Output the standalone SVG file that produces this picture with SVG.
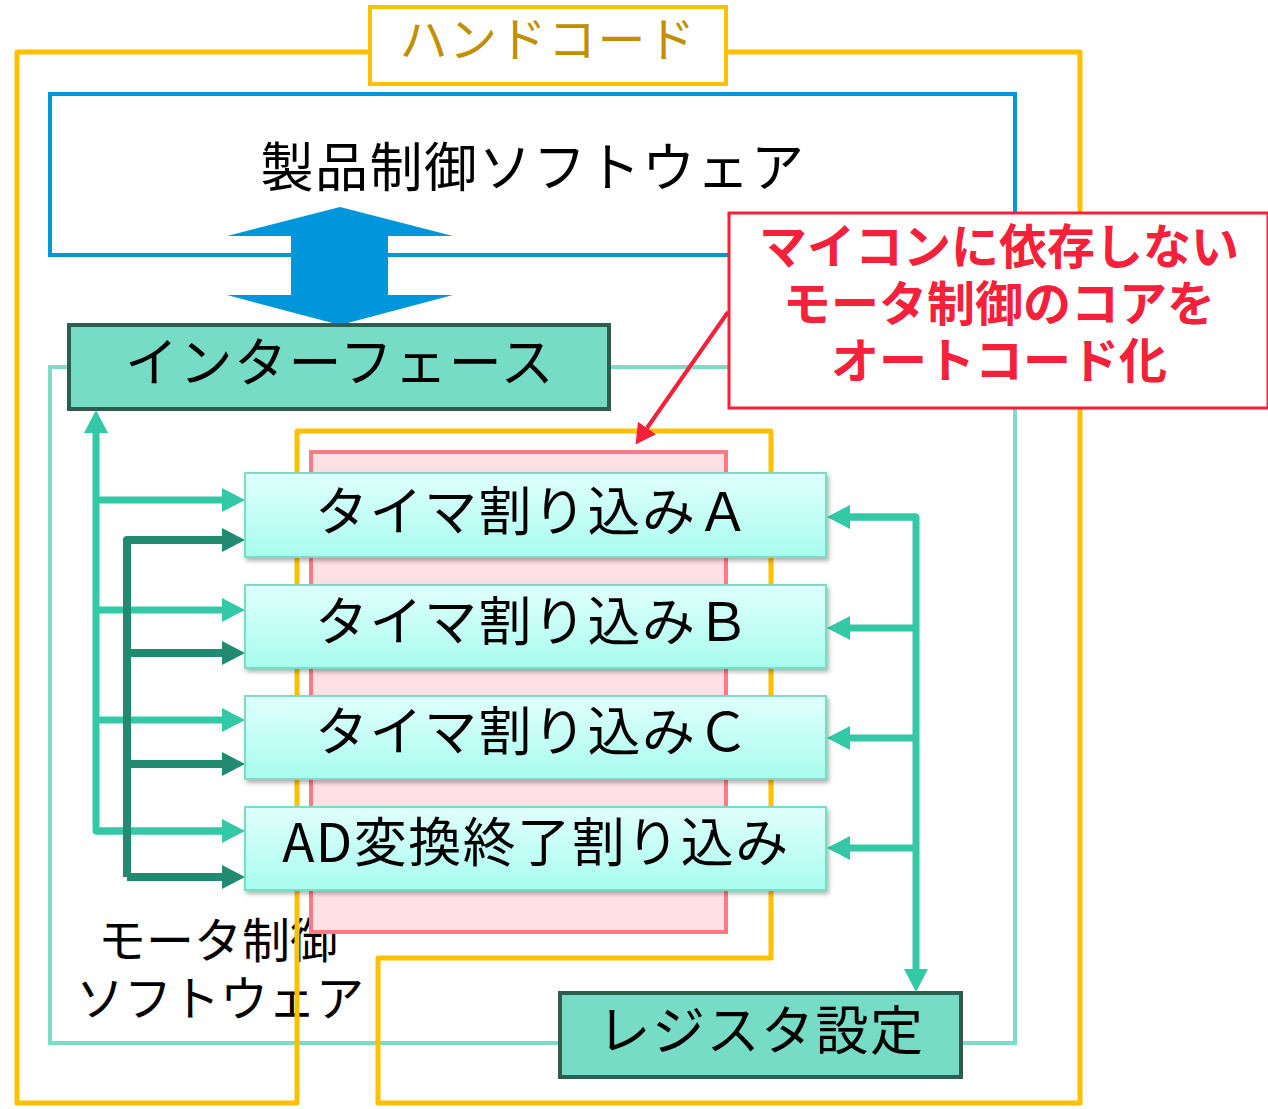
<svg xmlns="http://www.w3.org/2000/svg" width="1268" height="1109" viewBox="0 0 1268 1109">
<style>
text{font-family:"Noto Sans CJK JP","Noto Sans",sans-serif;dominant-baseline:central;text-anchor:middle;fill:#000}
.big{font-size:53px;letter-spacing:1.5px}
.teal{fill:#76DCC6;stroke:#2F5D50;stroke-width:4}
.irq{fill:url(#g);stroke:#7ADCC4;stroke-width:2;filter:url(#sh)}
.cl{fill:none;stroke:#33C9A7;stroke-width:7;stroke-linejoin:round}
.cd{fill:none;stroke:#228A70;stroke-width:8;stroke-linejoin:round}
.red{fill:#F5203A;font-weight:700;font-size:48px}
</style>
<defs>
<linearGradient id="g" x1="0" y1="0" x2="0" y2="1"><stop offset="0" stop-color="#E0FFFC"/><stop offset="1" stop-color="#A8FCEF"/></linearGradient>
<filter id="sh" x="-5%" y="-20%" width="110%" height="150%"><feDropShadow dx="2" dy="3" stdDeviation="2" flood-color="#000" flood-opacity="0.3"/></filter>
<marker id="al" markerUnits="userSpaceOnUse" markerWidth="24" markerHeight="26" viewBox="0 -13 24 26" refX="0" refY="0" orient="auto"><path d="M0,-12 L23,0 L0,12 Z" fill="#33C9A7"/></marker>
<marker id="ad" markerUnits="userSpaceOnUse" markerWidth="24" markerHeight="26" viewBox="0 -13 24 26" refX="0" refY="0" orient="auto"><path d="M0,-12 L23,0 L0,12 Z" fill="#228A70"/></marker>
<marker id="ar" markerUnits="userSpaceOnUse" markerWidth="24" markerHeight="26" viewBox="0 -13 24 26" refX="0" refY="0" orient="auto"><path d="M0,-11 L20,0 L0,11 Z" fill="#F5203A"/></marker>
</defs>
<rect width="1268" height="1109" fill="#fff"/>

<g id="motor-software">
<rect x="50" y="367" width="965" height="676" fill="none" stroke="#7ADDC5" stroke-width="4"/>
<text x="218" y="937" style="font-size:48px">モータ制御</text>
<text x="220" y="995" style="font-size:48px">ソフトウェア</text>
</g>

<g id="product-software">
<rect x="50" y="94" width="965" height="161" fill="none" stroke="#0096DC" stroke-width="4"/>
<text x="533" y="164" style="font-size:53px;letter-spacing:1.5px">製品制御ソフトウェア</text>
</g>

<g id="hand-code">
<path d="M370,52 H17 V1103 H297 V431 H771 V958 H378 V1103 H1080 V52 H726" fill="none" stroke="#FFC000" stroke-width="5" stroke-linejoin="round"/>
<rect x="370" y="7" width="356" height="77" fill="#fff" stroke="#FFC000" stroke-width="4"/>
<text x="548" y="36" style="font-size:48px;letter-spacing:1.5px;fill:#C09000">ハンドコード</text>
</g>

<g id="auto-code-area">
<rect x="311" y="452" width="415" height="480" fill="#FFE0E4" stroke="#FF7A85" stroke-width="4"/>
</g>

<g id="api-arrow">
<path d="M340,207 L453,236 H388 V295 H453 L340,325 L227,295 H291 V236 H227 Z" fill="#0096DC"/>
</g>

<g id="interface">
<rect class="teal" x="69" y="325" width="540" height="84"/>
<text class="big" x="340" y="359">インターフェース</text>
</g>

<g id="register">
<rect class="teal" x="560" y="993" width="401" height="84"/>
<text class="big" x="761" y="1027">レジスタ設定</text>
</g>

<g id="connectors">
<path class="cl" d="M222,831 H96 V433" marker-end="url(#al)"/>
<path class="cl" d="M96,500 H222" marker-end="url(#al)"/>
<path class="cl" d="M96,610 H222" marker-end="url(#al)"/>
<path class="cl" d="M96,720 H222" marker-end="url(#al)"/>
<path class="cl" d="M96,831 H222" marker-end="url(#al)"/>
<path class="cd" d="M127,877 V540 H222" marker-end="url(#ad)"/>
<path class="cd" d="M127,653 H222" marker-end="url(#ad)"/>
<path class="cd" d="M127,764 H222" marker-end="url(#ad)"/>
<path class="cd" d="M127,877 H222" marker-end="url(#ad)"/>
<path class="cl" d="M916,517 H850" marker-end="url(#al)"/>
<path class="cl" d="M916,628 H850" marker-end="url(#al)"/>
<path class="cl" d="M916,738 H850" marker-end="url(#al)"/>
<path class="cl" d="M916,848 H850" marker-end="url(#al)"/>
<path class="cl" d="M850,517 H916 V969" marker-end="url(#al)"/>
<path d="M728,312 L647,428" fill="none" stroke="#F5203A" stroke-width="4" marker-end="url(#ar)"/>
</g>

<g id="timer-a">
<rect class="irq" x="245" y="473" width="581" height="84"/>
<text class="big" x="533" y="508">タイマ割り込みＡ</text>
</g>
<g id="timer-b">
<rect class="irq" x="245" y="585" width="581" height="83"/>
<text class="big" x="533" y="618">タイマ割り込みＢ</text>
</g>
<g id="timer-c">
<rect class="irq" x="245" y="696" width="581" height="83"/>
<text class="big" x="533" y="728">タイマ割り込みＣ</text>
</g>
<g id="ad-irq">
<rect class="irq" x="245" y="807" width="581" height="83"/>
<text class="big" x="536" y="839">AD変換終了割り込み</text>
</g>

<g id="callout">
<rect x="729" y="213" width="539" height="195" fill="#fff" stroke="#F5203A" stroke-width="3"/>
<text class="red" x="999" y="243">マイコンに依存しない</text>
<text class="red" x="999" y="300">モータ制御のコアを</text>
<text class="red" x="999" y="357">オートコード化</text>
</g>
</svg>
